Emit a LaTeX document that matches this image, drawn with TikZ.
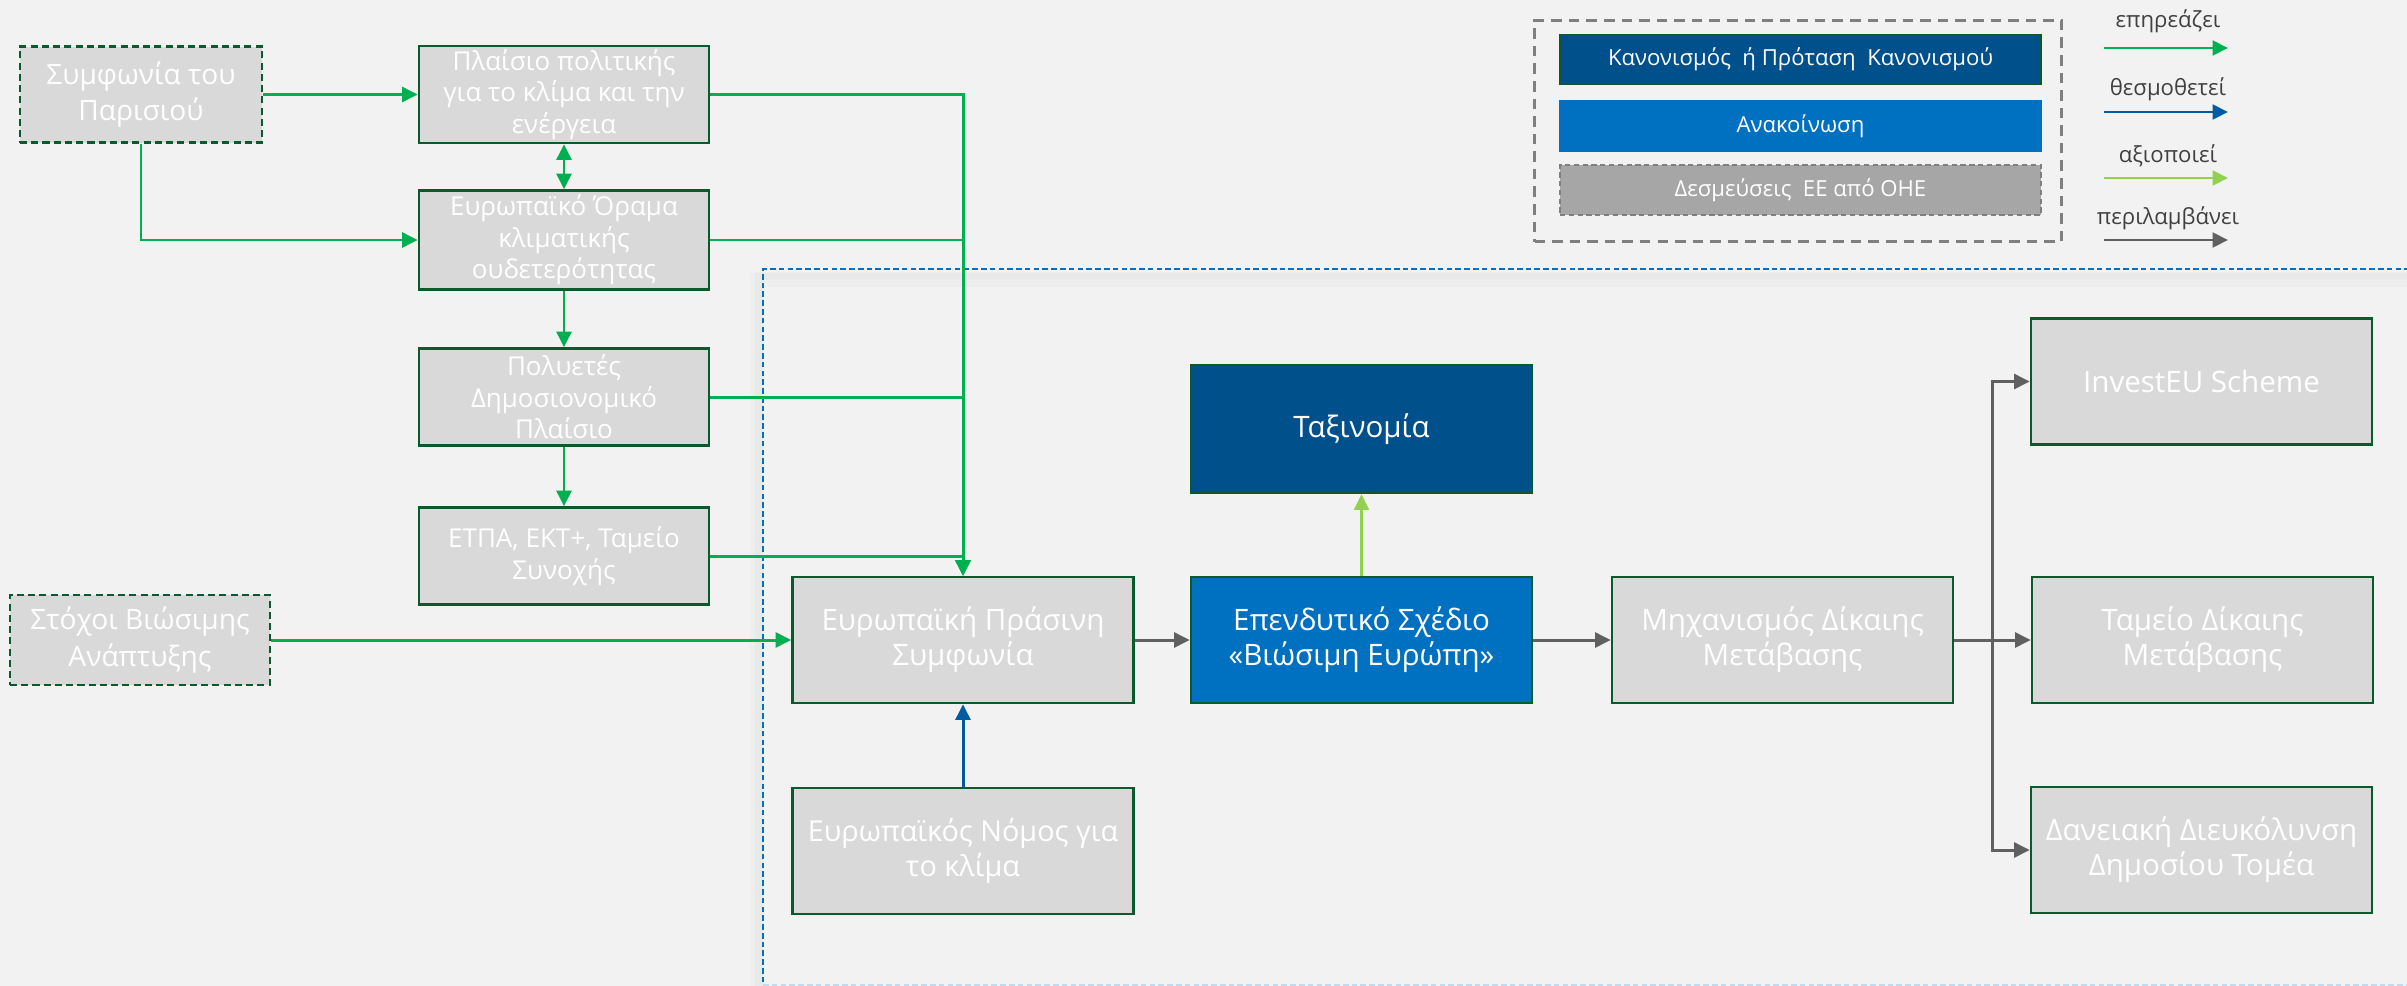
\documentclass[tikz,border=0pt]{standalone}
\usepackage{fontspec}
\setmainfont{Open Sans}
\usetikzlibrary{arrows.meta, calc}
\definecolor{cBg}{HTML}{F2F2F2}
\definecolor{cBox}{HTML}{D9D9D9}
\definecolor{cEdge}{HTML}{0B5A2C}
\definecolor{cGreen}{HTML}{00B050}
\definecolor{cLime}{HTML}{92D050}
\definecolor{cNavy}{HTML}{00508C}
\definecolor{cBlue}{HTML}{0070C0}
\definecolor{cLawBlue}{HTML}{005BA0}
\definecolor{cGrayArr}{HTML}{606060}
\definecolor{cFrame}{HTML}{7F7F7F}
\definecolor{cUN}{HTML}{A6A6A6}
\definecolor{cLabel}{HTML}{404040}

\begin{document}
\begin{tikzpicture}[
    x=0.1mm, y=-0.1mm,
    box/.style={draw=cEdge, fill=cBox, line width=0.75pt, text=white,
                align=center, inner sep=0pt},
    small/.style={box, minimum width=29mm, minimum height=9.7mm,
                  font=\fontsize{7.4}{9}\selectfont},
    big/.style={box, minimum width=34.1mm, minimum height=12.6mm,
                font=\fontsize{8.4}{10}\selectfont},
    commit/.style={box, dashed, dash pattern=on 2pt off 1.2pt,
                   font=\fontsize{8}{10.4}\selectfont},
    bar/.style={draw=#1, fill=#1, minimum width=48.1mm, minimum height=5mm,
                inner sep=0pt, text=white, font=\fontsize{6.3}{7}\selectfont},
    arr/.style={-{Triangle[length=4.4pt, width=4.2pt]}, line width=0.85pt, draw=#1},
  ]
  \fill[cBg] (0,0) rectangle (2407,986);
  \useasboundingbox (0,0) rectangle (2407,986);

  % Green Deal area
  \begin{scope}
    \clip (0,0) rectangle (2407,986);
    \draw[line width=4pt, draw=black, opacity=0.015] (757,990) -- (757,280) -- (2420,280);
    \draw[line width=2pt, draw=black, opacity=0.02] (759,990) -- (759,276) -- (2420,276);
    \draw[cBlue, line width=0.8pt, dash pattern=on 1.6pt off 0.9pt]
      (763,1000) -- (763,269) -- (2420,269);
    \draw[cBlue!25, line width=0.6pt, dash pattern=on 1.6pt off 0.9pt]
      (763,985) -- (2420,985);
  \end{scope}

  % Legend
  \node[draw=cFrame, dashed, dash pattern=on 3pt off 2pt, line width=0.7pt,
        minimum width=52.7mm, minimum height=22.1mm, inner sep=0pt]
    (legend) at (1798,131) {};
  \node[bar=cNavy, draw=cEdge] (lreg) at (1800.5,59.5)
    {Κανονισμός\ \ ή Πρόταση\ \ Κανονισμού};
  \node[bar=cBlue]  (lcom) at (1800.5,126) {Ανακοίνωση};
  \node[bar=cUN, draw=cFrame, dashed, dash pattern=on 1.5pt off 1pt] (lun)
    at (1800.5,190) {Δεσμεύσεις\ \ ΕΕ από ΟΗΕ};

  \foreach \name/\txt/\col/\ty/\ay in {aff/επηρεάζει/cGreen/21/48,
      leg/θεσμοθετεί/cLawBlue/89/112,
      use/αξιοποιεί/cLime/156/178,
      inc/περιλαμβάνει/cGrayArr/218/240} {
    \node[text=cLabel, font=\fontsize{6.3}{7}\selectfont] (\name) at (2168,\ty) {\txt};
    \coordinate (\name s) at (2104,\ay);
    \coordinate (\name e) at (2228,\ay);
    \draw[arr=\col] (\name s) -- (\name e);
  }

  % Left column
  \node[commit, minimum width=24.2mm, minimum height=9.6mm] (paris) at (141,94.5)
    {Συμφωνία του\\Παρισιού};
  \node[small] (plaisio)  at (564,94.5) {Πλαίσιο πολιτικής\\για το κλίμα και την\\ενέργεια};
  \node[small, minimum height=9.9mm] (orama) at (564,240)
    {Ευρωπαϊκό Όραμα\\κλιματικής\\ουδετερότητας};
  \node[small] (polyetes) at (564,397) {Πολυετές\\Δημοσιονομικό\\Πλαίσιο};
  \node[small] (etpa)     at (564,556) {ΕΤΠΑ, ΕΚΤ+, Ταμείο\\Συνοχής};
  \node[commit, minimum width=26mm, minimum height=9mm] (stoxoi) at (140,640)
    {Στόχοι Βιώσιμης\\Ανάπτυξης};

  % Main row
  \node[big] (egd)        at (963,640)    {Ευρωπαϊκή Πράσινη\\Συμφωνία};
  \node[big, fill=cBlue] (ependytiko) at (1361.5,640) {Επενδυτικό Σχέδιο\\«Βιώσιμη Ευρώπη»};
  \node[big, fill=cNavy, minimum height=12.8mm] (taxinomia) at (1361.5,429) {Ταξινομία};
  \node[big] (mixanismos) at (1782.5,640) {Μηχανισμός Δίκαιης\\Μετάβασης};
  \node[big, font=\fontsize{8.2}{10}\selectfont] (nomos) at (963,851)
    {Ευρωπαϊκός Νόμος για\\το κλίμα};
  \node[big] (investeu)   at (2201.5,381.5) {InvestEU Scheme};
  \node[big] (tameio)     at (2202.5,640)   {Ταμείο Δίκαιης\\Μετάβασης};
  \node[big] (daneiaki)   at (2201.5,850)   {Δανειακή Διευκόλυνση\\Δημοσίου Τομέα};

  % Influences
  \draw[arr=cGreen] (paris) -- (plaisio);
  \draw[arr=cGreen] (paris.south) |- (orama.west);
  \draw[arr=cGreen, {Triangle[length=4.4pt, width=4.2pt]}-{Triangle[length=4.4pt, width=4.2pt]}]
    (plaisio) -- (orama);
  \draw[arr=cGreen] (orama) -- (polyetes);
  \draw[arr=cGreen] (polyetes) -- (etpa);
  \draw[arr=cGreen] (plaisio.east)  -| (egd.north);
  \draw[arr=cGreen] (orama.east)    -| (egd.north);
  \draw[arr=cGreen] (polyetes.east) -| (egd.north);
  \draw[arr=cGreen] (etpa.east)     -| (egd.north);
  \draw[arr=cGreen] (stoxoi) -- (egd);

  % Legislates, uses, includes
  \draw[arr=cLawBlue] (nomos) -- (egd);
  \draw[arr=cLime, line width=0.7pt] (ependytiko) -- (taxinomia);
  \draw[arr=cGrayArr] (egd) -- (ependytiko);
  \draw[arr=cGrayArr] (ependytiko) -- (mixanismos);
  \coordinate (split) at ($(mixanismos.east)+(38,0)$);
  \draw[arr=cGrayArr] (mixanismos.east) -- (split) |- (investeu.west);
  \draw[arr=cGrayArr] (mixanismos.east) -- (tameio.west);
  \draw[arr=cGrayArr] (mixanismos.east) -- (split) |- (daneiaki.west);
\end{tikzpicture}
\end{document}
